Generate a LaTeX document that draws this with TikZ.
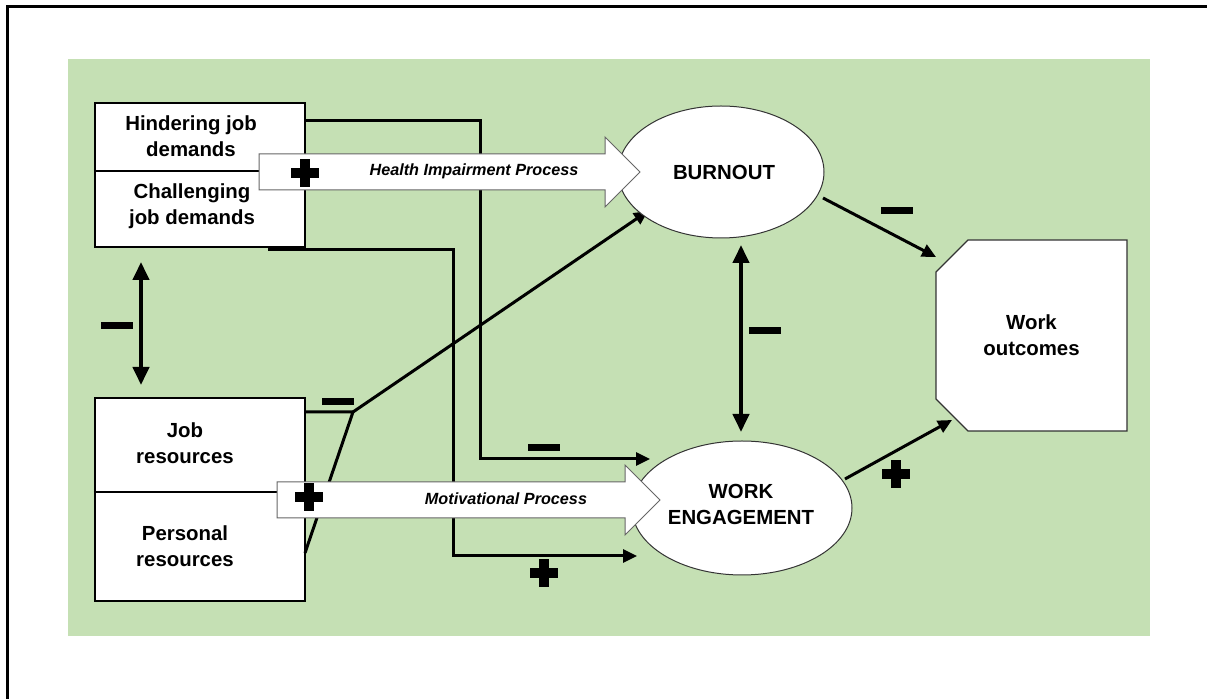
\documentclass[tikz,border=0pt]{standalone}
\usepackage{fontspec}
\setmainfont{Liberation Sans}
\usetikzlibrary{arrows.meta, shapes.geometric, positioning}
\definecolor{bggreen}{RGB}{197,224,180}
\tikzset{
	blockbox/.style={draw, line width=1.1pt, fill=white, minimum width=105pt},
	lbl/.style={font=\bfseries\fontsize{10.2}{13}\selectfont, align=center, inner sep=0pt},
	procname/.style={font=\bfseries\itshape\fontsize{8.1}{10}\selectfont, inner sep=0pt},
	oval/.style={ellipse, draw=black!80, line width=0.5pt, fill=white},
	conn/.style={line width=1.5pt, ->},
	twoway/.style={line width=2pt, <->, >={Triangle[length=9pt,width=8pt]}},
	procarrow/.style={draw=black!60, line width=0.5pt, fill=white},
	plussign/.pic={\fill (-14,-5) rectangle (14,5); \fill (-5,-14) rectangle (5,14);},
	minussign/.pic={\fill (-16,-3.5) rectangle (16,3.5);},
}
\begin{document}
\begin{tikzpicture}[x=0.5pt, y=-0.5pt, >={Triangle[length=7pt,width=6.5pt]}]
		\useasboundingbox (0,0) rectangle (1207,699);
		\fill[bggreen] (68,59) rectangle (1150,636);
		\draw[line width=1.5pt] (7,699) -- (7,7) -- (1207,7);

		\node[blockbox, minimum height=72pt] (dem) at (200,175) {};
		\node[blockbox, minimum height=101.5pt] (res) at (200,499.5) {};
		\coordinate (demsplit) at (0,171); \coordinate (ressplit) at (0,492);
		\draw[line width=0.6pt] (dem.west |- demsplit) -- (dem.east |- demsplit); \draw[line width=0.6pt] (res.west |- ressplit) -- (res.east |- ressplit);
		\node[lbl] (hind) at (191,136) {Hindering job\\demands};
		\node[lbl] (chal) at (192,206) {Challenging\\job demands};
		\node[lbl] (jobres) at (185,443) {Job\\resources};
		\node[lbl] (persres) at (185,546) {Personal\\resources};

		\draw[draw=black!80, line width=0.6pt, fill=white] (936,272) -- (968,240) -- (1127,240) -- (1127,431) -- (968,431) -- (936,399) -- cycle;
		\node[lbl] (out) at (1031.5,335.5) {Work\\outcomes};

		\coordinate (hindout) at (305,121); \coordinate (chalout) at (268,250); \coordinate (resout) at (305,412); \coordinate (resjoin) at (353,412); \coordinate (persout) at (305,553);
		\coordinate (burnin) at (648,211); \coordinate (enginA) at (650,459); \coordinate (enginB) at (637,556);
		\coordinate (burnR) at (823,198); \coordinate (engR) at (845,479); \coordinate (outA) at (936,257); \coordinate (outB) at (952,420);
		\coordinate (lnktop) at (141,262); \coordinate (lnkbot) at (141,385); \coordinate (midtop) at (741,245); \coordinate (midbot) at (741,432);

		\draw[conn] (hindout) -| (480,459) -- (enginA);
		\draw[conn] (chalout) -| (453,556) -- (enginB);
		\draw[line width=1.5pt] (resout) -- (resjoin) -- (persout); \draw[conn] (resjoin) -- (burnin);
		\draw[conn] (burnR) -- (outA); \draw[conn] (engR) -- (outB);
		\draw[twoway] (lnktop) -- (lnkbot); \draw[twoway] (midtop) -- (midbot);

		\node[oval, minimum width=103pt, minimum height=66pt] (burn) at (721,172) {};
		\node[oval, minimum width=110pt, minimum height=67pt] (eng) at (742,508) {};
		\node[lbl] (burntxt) at (724,172) {BURNOUT};
		\node[lbl] (engtxt) at (741,504) {WORK\\ENGAGEMENT};

		\draw[procarrow] (259,154) -- (605,154) -- (605,137) -- (640,172) -- (605,207) -- (605,190) -- (259,190) -- cycle;
		\draw[procarrow] (277,482) -- (625,482) -- (625,465) -- (660,500) -- (625,535) -- (625,518) -- (277,518) -- cycle;
		\node[procname] (hip) at (474,171) {Health Impairment Process};
		\node[procname] (mp) at (506,499) {Motivational Process};

		\pic at (305,173) {plussign}; \pic at (309,497) {plussign}; \pic at (544,573) {plussign}; \pic at (896,474) {plussign};
		\pic at (117,326) {minussign}; \pic at (338,402) {minussign}; \pic at (544,448) {minussign}; \pic at (897,211) {minussign}; \pic at (765,331) {minussign};
\end{tikzpicture}
\end{document}
